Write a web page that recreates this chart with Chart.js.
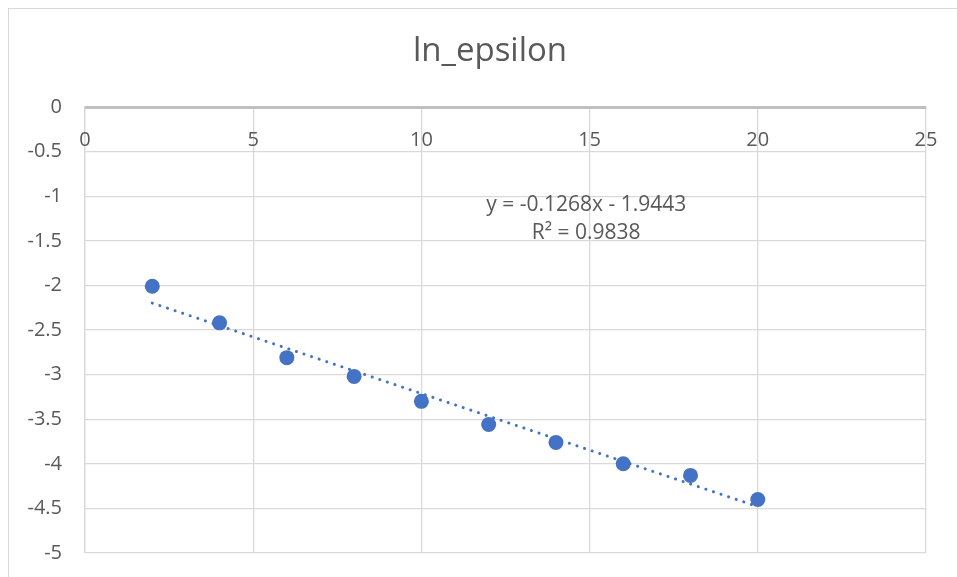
<!DOCTYPE html>
<html>
<head>
<meta charset="utf-8">
<script src="https://cdn.jsdelivr.net/npm/chart.js@4/dist/chart.umd.min.js"></script>
<style>
  html, body { margin: 0; padding: 0; background: #ffffff; }
  #wrap { width: 957px; height: 577px; }
</style>
</head>
<body>
<div id="wrap"><canvas id="lnChart"></canvas></div>
<script>
// values
const xValues = [2, 4, 6, 8, 10, 12, 14, 16, 18, 20];
const yValues = [-2.01, -2.42, -2.81, -3.02, -3.30, -3.56, -3.76, -4.00, -4.13, -4.40];
const xTicks = [0, 5, 10, 15, 20, 25];
const yTicks = [0, -0.5, -1, -1.5, -2, -2.5, -3, -3.5, -4, -4.5, -5];

// linear trendline as printed on the chart
const slope = -0.1268;
const intercept = -1.9443;
const trendFrom = 2;
const trendTo = 20;
const titleText = 'ln_epsilon';
const equationLines = ['y = -0.1268x - 1.9443', 'R\u00b2 = 0.9838'];

const textColor = '#595959';
const gridColor = '#d9d9d9';
const fontFamily = '"Open Sans", "Noto Sans", sans-serif';

const points = xValues.map((x, i) => ({x: x, y: yValues[i]}));
const trend = [trendFrom, trendTo].map(x => ({x: x, y: slope * x + intercept}));

// Excel style extras: outer frame, title, x labels under the top axis, equation text
const excelBits = {
    id: 'excelBits',
    beforeDraw(chart) {
        const c = chart.ctx;
        c.save();
        c.fillStyle = '#ffffff';
        c.fillRect(0, 0, chart.width, chart.height);
        c.strokeStyle = gridColor;
        c.lineWidth = 1;
        c.strokeRect(8.5, 8.5, chart.width + 40, chart.height + 40);
        // the Excel frame is wider than the picture, so the title sits right of centre
        c.fillStyle = textColor;
        c.font = '33px ' + fontFamily;
        c.textAlign = 'center';
        c.textBaseline = 'middle';
        c.fillText(titleText, (8 + chart.width + 9) / 2 + 3, 52);
        c.restore();
    },
    afterDatasetsDraw(chart) {
        const c = chart.ctx;
        const xs = chart.scales.x;
        const ys = chart.scales.y;
        c.save();
        c.fillStyle = textColor;
        c.font = '20px ' + fontFamily;
        c.textAlign = 'center';
        c.textBaseline = 'middle';
        xTicks.forEach(v => {
            c.fillText(String(v), xs.getPixelForValue(v), chart.chartArea.top + 33);
        });
        c.font = '21px ' + fontFamily;
        const ex = xs.getPixelForValue(14.9);
        const ey = ys.getPixelForValue(-1.1);
        equationLines.forEach((line, i) => c.fillText(line, ex, ey + i * 28));
        c.restore();
    }
};

const ctx = document.getElementById('lnChart').getContext('2d');

const lnChart = new Chart(ctx, {
    type: 'scatter',
    data: {
        datasets: [
            {
                label: 'Linear (ln_epsilon)',
                type: 'line',
                data: trend,
                borderColor: '#4472C4',
                borderWidth: 3,
                borderDash: [0.1, 7.9],
                borderCapStyle: 'round',
                pointRadius: 0,
                fill: false
            },
            {
                label: 'ln_epsilon',
                data: points,
                backgroundColor: '#4472C4',
                borderColor: '#4472C4',
                borderWidth: 0,
                pointRadius: 7.5,
                pointHoverRadius: 7.5
            }
        ]
    },
    options: {
        responsive: true,
        maintainAspectRatio: false,
        animation: false,
        layout: {
            padding: {left: 0, right: 31, top: 107, bottom: 24}
        },
        plugins: {
            legend: {display: false},
            tooltip: {enabled: false},
            title: {display: false}
        },
        scales: {
            x: {
                type: 'linear',
                position: 'top',
                min: 0,
                max: 25,
                afterBuildTicks: scale => { scale.ticks = xTicks.map(v => ({value: v})); },
                afterFit: scale => {
                    scale.height = 0;
                    scale.paddingLeft = 0;
                    scale.paddingRight = 0;
                },
                ticks: {display: false},
                grid: {color: gridColor, lineWidth: 1.3, drawTicks: false},
                border: {color: '#bfbfbf', width: 3}
            },
            y: {
                type: 'linear',
                min: -5,
                max: 0,
                afterBuildTicks: scale => { scale.ticks = yTicks.map(v => ({value: v})); },
                afterFit: scale => {
                    scale.width = 85;
                    scale.paddingTop = 0;
                    scale.paddingBottom = 0;
                },
                ticks: {
                    color: textColor,
                    font: {family: fontFamily, size: 20},
                    padding: 23,
                    callback: v => String(v)
                },
                grid: {color: gridColor, lineWidth: 1.3, drawTicks: false},
                border: {color: gridColor, width: 1.3}
            }
        }
    },
    plugins: [excelBits]
});
</script>
</body>
</html>
